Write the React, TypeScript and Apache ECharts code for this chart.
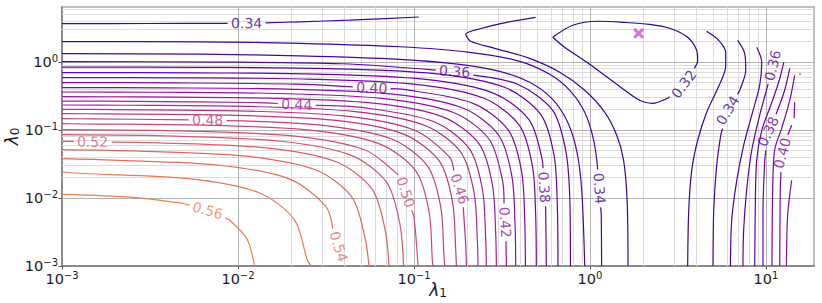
import React, { useEffect, useRef } from 'react';
import * as echarts from 'echarts';

// Axis ranges and grid-line positions (data units)
const X_MIN = 0.001;
const X_MAX = 18.74;
const Y_MIN = 0.001;
const Y_MAX = 6.44;
const X_MAJOR = [0.01, 0.1, 1, 10];
const Y_MAJOR = [0.01, 0.1, 1];
const X_MINOR = [0.002, 0.003, 0.004, 0.005, 0.006, 0.007, 0.008, 0.009, 0.02, 0.03, 0.04, 0.05, 0.06, 0.07, 0.08, 0.09, 0.2, 0.3, 0.4, 0.5, 0.6, 0.7, 0.8, 0.9, 2, 3, 4, 5, 6, 7, 8, 9];
const Y_MINOR = [0.002, 0.003, 0.004, 0.005, 0.006, 0.007, 0.008, 0.009, 0.02, 0.03, 0.04, 0.05, 0.06, 0.07, 0.08, 0.09, 0.2, 0.3, 0.4, 0.5, 0.6, 0.7, 0.8, 0.9, 2, 3, 4, 5, 6];

// Optimum marker [λ1, λ0]
const BEST = [1.89, 2.64];

// Contour pieces, points as [log10 λ1, log10 λ0]
const c032 = [[-0.212, 0.363], [-0.098, 0.540], [0.044, 0.599], [0.186, 0.584], [0.339, 0.554], [0.453, 0.496], [0.555, 0.363], [0.606, 0.172], [0.612, 0.025], [0.584, -0.151], [0.527, -0.343], [0.441, -0.534], [0.356, -0.607], [0.282, -0.563], [0.152, -0.328], [-0.002, -0.034], [-0.144, 0.216], [-0.212, 0.363]];
const c033L = [[-0.309, 0.657], [-0.473, 0.584], [-0.615, 0.496], [-0.706, 0.407], [-0.678, 0.304], [-0.542, 0.201], [-0.343, 0.054], [-0.172, -0.151], [-0.030, -0.416], [0.084, -0.740], [0.152, -1.078], [0.191, -1.446], [0.211, -2.034], [0.216, -3]];
const c033R = [[0.663, 0.451], [0.731, 0.319], [0.771, 0.143], [0.771, -0.063], [0.726, -0.387], [0.663, -0.740], [0.612, -1.151], [0.578, -1.593], [0.561, -2.181], [0.555, -3]];
const c034T = [[-3, 0.565], [-2.502, 0.566], [-1.951, 0.569], [-1.649, 0.591], [-1.365, 0.616], [-0.973, 0.662]];
const c034L = [[-3, 0.300], [-2.218, 0.296], [-1.649, 0.275], [-1.081, 0.224], [-0.684, 0.143], [-0.399, 0.010], [-0.229, -0.181], [-0.115, -0.416], [-0.030, -0.740], [0.021, -1.151], [0.049, -1.666], [0.064, -2.254], [0.066, -3]];
const c034R = [[0.839, 0.319], [0.879, 0.128], [0.885, -0.122], [0.851, -0.416], [0.782, -0.710], [0.743, -1.078], [0.720, -1.519], [0.703, -2.181], [0.699, -3]];
const c035L = [[-3, 0.124], [-2.218, 0.116], [-1.649, 0.091], [-1.081, 0.040], [-0.740, -0.034], [-0.513, -0.137], [-0.343, -0.298], [-0.218, -0.534], [-0.132, -0.857], [-0.076, -1.298], [-0.047, -1.887], [-0.030, -3]];
const c035R = [[0.947, 0.216], [0.976, -0.004], [0.964, -0.343], [0.919, -0.784], [0.873, -1.225], [0.834, -1.740], [0.805, -2.328], [0.798, -3]];
const c036L = [[-3, 0.006], [-2.110, -0.001], [-1.411, -0.026], [-0.769, -0.137], [-0.411, -0.328], [-0.212, -0.710], [-0.138, -1.298], [-0.115, -1.990], [-0.111, -3]];
const c036R = [[1.049, 0.172], [1.038, -0.048], [1.010, -0.343], [0.964, -0.784], [0.919, -1.298], [0.890, -1.887], [0.873, -2.475], [0.869, -3]];
const c037L = [[-3, -0.074], [-2.182, -0.078], [-1.483, -0.096], [-0.881, -0.171], [-0.483, -0.375], [-0.279, -0.773], [-0.204, -1.375], [-0.186, -2.074], [-0.182, -3]];
const c037R = [[1.101, -0.004], [1.072, -0.298], [1.027, -0.637], [0.976, -1.004], [0.947, -1.446], [0.939, -2.181], [0.936, -3]];
const c038L = [[-3, -0.156], [-2.248, -0.160], [-1.549, -0.178], [-0.947, -0.253], [-0.549, -0.457], [-0.345, -0.855], [-0.270, -1.457], [-0.252, -2.156], [-0.248, -3]];
const c038R = [[1.135, -0.093], [1.106, -0.416], [1.055, -0.784], [1.010, -1.034], [0.993, -1.446], [0.983, -2.181], [0.983, -3]];
const c039L = [[-3, -0.229], [-2.305, -0.233], [-1.606, -0.251], [-1.004, -0.326], [-0.606, -0.530], [-0.402, -0.928], [-0.327, -1.530], [-0.309, -2.229], [-0.305, -3]];
const c039R = [[1.163, -0.196], [1.135, -0.563], [1.089, -0.975], [1.049, -1.298], [1.038, -1.887], [1.034, -3]];
const c040L = [[-3, -0.303], [-2.367, -0.307], [-1.668, -0.325], [-1.066, -0.400], [-0.668, -0.604], [-0.464, -1.002], [-0.389, -1.604], [-0.371, -2.303], [-0.367, -3]];
const c040R = [[1.146, -0.931], [1.112, -1.151], [1.089, -1.372], [1.081, -1.887], [1.078, -3]];
const c040F = [[1.163, -0.593], [1.160, -0.828]];
const c041L = [[-3, -0.376], [-2.422, -0.380], [-1.723, -0.398], [-1.121, -0.473], [-0.723, -0.677], [-0.519, -1.075], [-0.444, -1.677], [-0.426, -2.376], [-0.422, -3]];
const c041R = [[1.146, -1.740], [1.123, -2.254], [1.116, -3]];
const c041F = [[1.192, -0.166], [1.194, -0.190]];
const c042 = [[-3, -0.441], [-2.475, -0.445], [-1.776, -0.463], [-1.174, -0.538], [-0.776, -0.742], [-0.572, -1.140], [-0.497, -1.742], [-0.479, -2.441], [-0.475, -3]];
const c043 = [[-3, -0.509], [-2.532, -0.513], [-1.833, -0.531], [-1.231, -0.606], [-0.833, -0.810], [-0.629, -1.208], [-0.554, -1.810], [-0.536, -2.509], [-0.532, -3]];
const c044 = [[-3, -0.574], [-2.589, -0.578], [-1.890, -0.596], [-1.288, -0.671], [-0.890, -0.875], [-0.686, -1.273], [-0.611, -1.875], [-0.593, -2.574], [-0.589, -3]];
const c045 = [[-3, -0.632], [-2.636, -0.636], [-1.937, -0.654], [-1.335, -0.729], [-0.937, -0.933], [-0.733, -1.331], [-0.658, -1.933], [-0.640, -2.632], [-0.636, -3]];
const c046 = [[-3, -0.696], [-2.702, -0.700], [-2.003, -0.718], [-1.401, -0.793], [-1.003, -0.997], [-0.799, -1.395], [-0.724, -1.997], [-0.706, -2.696], [-0.702, -3]];
const c047 = [[-3, -0.759], [-2.759, -0.763], [-2.060, -0.781], [-1.458, -0.856], [-1.060, -1.060], [-0.856, -1.458], [-0.781, -2.060], [-0.763, -2.759], [-0.759, -3]];
const c048 = [[-3, -0.832], [-2.826, -0.836], [-2.127, -0.854], [-1.525, -0.929], [-1.127, -1.133], [-0.923, -1.531], [-0.848, -2.133], [-0.830, -2.832], [-0.826, -3]];
const c049 = [[-3, -0.906], [-2.892, -0.910], [-2.193, -0.928], [-1.591, -1.003], [-1.193, -1.207], [-0.989, -1.605], [-0.914, -2.207], [-0.896, -2.906], [-0.892, -3]];
const c050 = [[-3, -0.994], [-2.278, -1.016], [-1.676, -1.091], [-1.278, -1.295], [-1.074, -1.693], [-0.999, -2.295], [-0.977, -3]];
const c051 = [[-3, -1.068], [-2.360, -1.090], [-1.758, -1.165], [-1.360, -1.369], [-1.156, -1.767], [-1.081, -2.369], [-1.059, -3]];
const c052 = [[-3, -1.166], [-2.443, -1.188], [-1.841, -1.263], [-1.443, -1.467], [-1.239, -1.865], [-1.164, -2.467], [-1.142, -3]];
const c053 = [[-3, -1.288], [-2.557, -1.310], [-1.955, -1.385], [-1.557, -1.589], [-1.353, -1.987], [-1.278, -2.589], [-1.256, -3]];
const c054 = [[-3, -1.421], [-2.706, -1.443], [-2.104, -1.518], [-1.706, -1.722], [-1.502, -2.120], [-1.427, -2.722], [-1.405, -3]];
const c055 = [[-3, -1.618], [-2.884, -1.640], [-2.282, -1.715], [-1.884, -1.919], [-1.680, -2.317], [-1.605, -2.919], [-1.583, -3]];
const c056 = [[-3, -1.946], [-2.598, -1.990], [-2.314, -2.078], [-2.172, -2.181], [-2.047, -2.328], [-1.951, -2.593], [-1.905, -3]];

const PIECES: { level: number; pts: number[][] }[] = [
  { level: 0.32, pts: c032 },
  { level: 0.33, pts: c033L }, { level: 0.33, pts: c033R },
  { level: 0.34, pts: c034T }, { level: 0.34, pts: c034L }, { level: 0.34, pts: c034R },
  { level: 0.35, pts: c035L }, { level: 0.35, pts: c035R },
  { level: 0.36, pts: c036L }, { level: 0.36, pts: c036R },
  { level: 0.37, pts: c037L }, { level: 0.37, pts: c037R },
  { level: 0.38, pts: c038L }, { level: 0.38, pts: c038R },
  { level: 0.39, pts: c039L }, { level: 0.39, pts: c039R },
  { level: 0.40, pts: c040L }, { level: 0.40, pts: c040R }, { level: 0.40, pts: c040F },
  { level: 0.41, pts: c041L }, { level: 0.41, pts: c041R }, { level: 0.41, pts: c041F },
  { level: 0.42, pts: c042 }, { level: 0.43, pts: c043 }, { level: 0.44, pts: c044 },
  { level: 0.45, pts: c045 }, { level: 0.46, pts: c046 }, { level: 0.47, pts: c047 },
  { level: 0.48, pts: c048 }, { level: 0.49, pts: c049 }, { level: 0.50, pts: c050 },
  { level: 0.51, pts: c051 }, { level: 0.52, pts: c052 }, { level: 0.53, pts: c053 },
  { level: 0.54, pts: c054 }, { level: 0.55, pts: c055 }, { level: 0.56, pts: c056 },
];

// Inline contour labels: text, contour piece, approximate place [log10 λ1, log10 λ0]
const LABELS: { text: string; pts: number[][]; at: number[] }[] = [
  { text: '0.32', pts: c032, at: [0.527, -0.313] },
  { text: '0.34', pts: c034T, at: [-1.951, 0.569] },
  { text: '0.34', pts: c034L, at: [0.0645, -1.857] },
  { text: '0.34', pts: c034R, at: [0.782, -0.710] },
  { text: '0.36', pts: c036L, at: [-0.769, -0.137] },
  { text: '0.36', pts: c036R, at: [1.032, -0.048] },
  { text: '0.38', pts: c038L, at: [-0.269, -1.843] },
  { text: '0.38', pts: c038R, at: [1.010, -1.019] },
  { text: '0.40', pts: c040L, at: [-1.240, -0.372] },
  { text: '0.40', pts: c040R, at: [1.095, -1.343] },
  { text: '0.42', pts: c042, at: [-0.475, -2.357] },
  { text: '0.44', pts: c044, at: [-1.666, -0.607] },
  { text: '0.46', pts: c046, at: [-0.731, -1.857] },
  { text: '0.48', pts: c048, at: [-2.172, -0.832] },
  { text: '0.50', pts: c050, at: [-1.015, -1.887] },
  { text: '0.52', pts: c052, at: [-2.826, -1.166] },
  { text: '0.54', pts: c054, at: [-1.405, -2.696] },
  { text: '0.56', pts: c056, at: [-2.172, -2.181] },
];

const PLASMA = ['#0d0887', '#41049d', '#6a00a8', '#8f0da4', '#b12a90', '#cc4778', '#e16462', '#f2844b', '#fca636', '#fcce25', '#f0f921'];
const NORM_LO = 0.30;
const NORM_HI = 0.68;

function hex(c: string): number[] {
  return [parseInt(c.slice(1, 3), 16), parseInt(c.slice(3, 5), 16), parseInt(c.slice(5, 7), 16)];
}
function levelColor(level: number): string {
  let t = (level - NORM_LO) / (NORM_HI - NORM_LO);
  t = Math.max(0, Math.min(1, t));
  const i = Math.min(9, Math.floor(t * 10));
  const f = t * 10 - i;
  const a = hex(PLASMA[i]);
  const b = hex(PLASMA[i + 1]);
  const m = a.map((v, k) => Math.round(v + (b[k] - v) * f));
  return `rgb(${m[0]},${m[1]},${m[2]})`;
}

const GAP = 19;
const FONT = 'DejaVu Sans';

function tickFmt(v: number): string {
  const e = Math.log10(v);
  const r = Math.round(e);
  if (Math.abs(e - r) > 0.01) return '';
  return `10{s|${r < 0 ? '\u2212' : ''}${Math.abs(r)}}`;
}

export default function App() {
  const ref = useRef<HTMLDivElement>(null);
  useEffect(() => {
    document.body.style.margin = '0';
    const el = ref.current!;
    const chart = echarts.init(el, undefined, { renderer: 'svg' });
    const toVal = (p: number[]) => [Math.pow(10, p[0]), Math.pow(10, p[1])];

    const axisCommon = {
      type: 'log' as const,
      logBase: 10,
      splitLine: { show: false },
      axisLine: { show: true, onZero: false, lineStyle: { color: '#7a7a7a', width: 1.5 } },
      axisTick: { show: true, length: 3.5, lineStyle: { color: '#555', width: 1 } },
      axisLabel: {
        formatter: tickFmt,
        showMaxLabel: false,
        fontFamily: FONT,
        fontSize: 14.5,
        color: '#1a1a1a',
        rich: { s: { fontFamily: FONT, fontSize: 10, color: '#1a1a1a', padding: [0, 0, 8, 0] } },
      },
      nameLocation: 'middle' as const,
      nameMoveOverlap: false,
      nameTextStyle: {
        rich: {
          a: { fontFamily: FONT, fontSize: 17, fontStyle: 'italic', color: '#1a1a1a' },
          b: { fontFamily: FONT, fontSize: 12, color: '#1a1a1a', padding: [7, 0, 0, 0] },
        },
      },
    };

    const gridLineSeries = (vals: number[], axis: 'xAxis' | 'yAxis', color: string) => ({
      type: 'line',
      data: [],
      silent: true,
      z: 1,
      markLine: {
        silent: true,
        animation: false,
        z: 1,
        symbol: ['none', 'none'],
        label: { show: false },
        emphasis: { disabled: true },
        lineStyle: { color, width: 1, type: 'solid', opacity: 1 },
        data: vals.map((v) => ({ [axis]: v })),
      },
    });

    const baseOption: any = {
      animation: false,
      textStyle: { fontFamily: FONT },
      grid: { left: 62, top: 7, width: 752, height: 259, outerBoundsMode: 'none', containLabel: false, show: true, borderColor: '#ababab', borderWidth: 1.5, backgroundColor: '#fff' },
      xAxis: {
        ...axisCommon,
        min: X_MIN,
        max: X_MAX,
        name: '{a|\u03bb}{b|1}',
        nameGap: 14,
        axisLabel: { ...axisCommon.axisLabel, margin: 4 },
      },
      yAxis: {
        ...axisCommon,
        min: Y_MIN,
        max: Y_MAX,
        name: '{a|\u03bb}{b|0}',
        nameGap: 41,
        axisLabel: { ...axisCommon.axisLabel, margin: 4 },
      },
      series: [
        gridLineSeries(X_MINOR, 'xAxis', '#dcdcdc'),
        gridLineSeries(Y_MINOR, 'yAxis', '#dcdcdc'),
        gridLineSeries(X_MAJOR, 'xAxis', '#b3b3b3'),
        gridLineSeries(Y_MAJOR, 'yAxis', '#b3b3b3'),
      ],
    };
    chart.setOption(baseOption);

    const toPx = (p: number[]) => chart.convertToPixel({ gridIndex: 0 }, toVal(p)) as number[];
    const toData = (q: number[]) => chart.convertFromPixel({ gridIndex: 0 }, q) as number[];
    const cumLen = (px: number[][]) => {
      const cum = [0];
      for (let i = 1; i < px.length; i++) cum.push(cum[i - 1] + Math.hypot(px[i][0] - px[i - 1][0], px[i][1] - px[i - 1][1]));
      return cum;
    };

    const cutsMap = new Map<number[][], number[][]>();
    const labelItems: any[] = [];
    for (const lab of LABELS) {
      const piece = PIECES.find((p) => p.pts === lab.pts)!;
      const px = lab.pts.map(toPx);
      const cum = cumLen(px);
      const a = toPx(lab.at);
      let best = { d: Infinity, s: 0, x: 0, y: 0, dx: 1, dy: 0 };
      for (let i = 0; i < px.length - 1; i++) {
        const [x1, y1] = px[i];
        const [x2, y2] = px[i + 1];
        const dx = x2 - x1;
        const dy = y2 - y1;
        const L2 = dx * dx + dy * dy;
        if (L2 === 0) continue;
        let t = ((a[0] - x1) * dx + (a[1] - y1) * dy) / L2;
        t = Math.max(0, Math.min(1, t));
        const cx = x1 + t * dx;
        const cy = y1 + t * dy;
        const d = Math.hypot(a[0] - cx, a[1] - cy);
        if (d < best.d) best = { d, s: cum[i] + t * Math.sqrt(L2), x: cx, y: cy, dx, dy };
      }
      let ang = (Math.atan2(-best.dy, best.dx) * 180) / Math.PI;
      if (ang > 90) ang -= 180;
      if (ang <= -90) ang += 180;
      const list = cutsMap.get(lab.pts) || [];
      list.push([best.s - GAP, best.s + GAP]);
      cutsMap.set(lab.pts, list);
      labelItems.push({
        name: lab.text,
        value: toData([best.x, best.y]),
        label: { rotate: ang, color: levelColor(piece.level) },
      });
    }

    const buildData = (pts: number[][]) => {
      const cuts = cutsMap.get(pts);
      if (!cuts) return pts.map(toVal);
      const px = pts.map(toPx);
      const cum = cumLen(px);
      const total = cum[cum.length - 1];
      const evs: { s: number; k: number; i: number }[] = px.map((_, i) => ({ s: cum[i], k: 0, i }));
      for (const [a, b] of cuts) {
        if (a > 0) evs.push({ s: a, k: 1, i: -1 });
        if (b < total) evs.push({ s: b, k: 2, i: -1 });
      }
      evs.sort((p, q) => p.s - q.s || p.k - q.k);
      const inside = (s: number) => cuts.some(([a, b]) => s >= a && s <= b);
      const at = (s: number) => {
        let j = 0;
        while (j < cum.length - 2 && cum[j + 1] < s) j++;
        const seg = cum[j + 1] - cum[j] || 1;
        const t = (s - cum[j]) / seg;
        return toData([px[j][0] + (px[j + 1][0] - px[j][0]) * t, px[j][1] + (px[j + 1][1] - px[j][1]) * t]);
      };
      const out: number[][] = [];
      for (const e of evs) {
        if (e.k === 0) {
          if (!inside(e.s)) out.push(toVal(pts[e.i]));
        } else if (e.k === 1) {
          out.push(at(e.s));
          out.push([NaN, NaN]);
        } else {
          out.push(at(e.s));
        }
      }
      return out;
    };

    const contourSeries = PIECES.map((p) => ({
      type: 'line',
      data: buildData(p.pts),
      symbol: 'none',
      showSymbol: false,
      smooth: 0.3,
      connectNulls: false,
      silent: true,
      z: 3,
      lineStyle: { color: levelColor(p.level), width: 1.2 },
    }));

    chart.setOption({
      series: [
        ...baseOption.series,
        ...contourSeries,
        {
          type: 'scatter',
          silent: true,
          z: 4,
          symbolSize: 1,
          itemStyle: { color: 'rgba(0,0,0,0)' },
          label: { show: true, position: 'inside', formatter: '{b}', fontFamily: FONT, fontSize: 14 },
          data: labelItems,
        },
        {
          type: 'scatter',
          silent: true,
          z: 5,
          symbol: 'path://M0,2 L2,0 L5,3 L8,0 L10,2 L7,5 L10,8 L8,10 L5,7 L2,10 L0,8 L3,5 Z',
          symbolSize: 11,
          itemStyle: { color: '#d14fd1' },
          data: [BEST],
        },
      ],
    });

    return () => chart.dispose();
  }, []);
  return <div ref={ref} style={{ width: 822, height: 303 }} />;
}
